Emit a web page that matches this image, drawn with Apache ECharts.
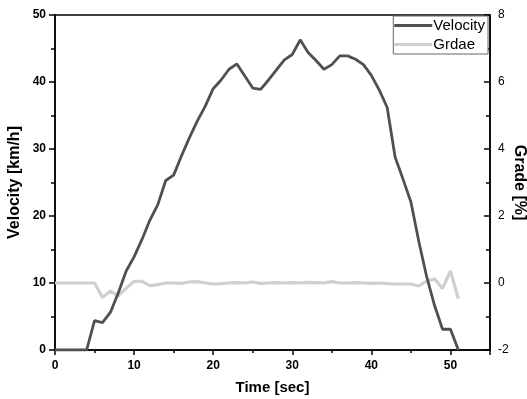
<!DOCTYPE html>
<html>
<head>
<meta charset="utf-8">
<script src="https://cdn.jsdelivr.net/npm/echarts@6/dist/echarts.min.js"></script>
<style>
html,body{margin:0;padding:0;background:#fff;}
#c{width:527px;height:399px;}
</style>
</head>
<body>
<div id="c"></div>
<script>
var timeSec = [0,1,2,3,4,5,6,7,8,9,10,11,12,13,14,15,16,17,18,19,20,21,22,23,24,25,26,27,28,29,30,31,32,33,34,35,36,37,38,39,40,41,42,43,44,45,46,47,48,49,50,51];
var velocity = [0,0,0,0,0,4.4,4.1,5.6,8.5,11.8,13.9,16.5,19.4,21.7,25.3,26.1,29.0,31.7,34.2,36.4,39.0,40.3,41.9,42.7,40.9,39.1,38.9,40.3,41.8,43.3,44.1,46.3,44.4,43.2,41.9,42.6,43.9,43.9,43.4,42.6,41.0,38.8,36.2,28.8,25.5,22.1,16.2,10.9,6.6,3.1,3.1,0];
var grade = [0,0,0,0,0,0,-0.43,-0.24,-0.38,-0.16,0.05,0.05,-0.08,-0.05,0,0,-0.01,0.03,0.04,0,-0.03,-0.02,0,0.01,0,0.03,-0.01,0,0.01,0,0.01,0,0.02,0.01,0,0.04,0,0,0.01,0,-0.01,0,-0.02,-0.03,-0.03,-0.03,-0.09,0.06,0.12,-0.16,0.36,-0.47];
var velTicks = [0,10,20,30,40,50];
var gradeTicks = [-2,0,2,4,6,8];

function pairs(xs, ys){ return xs.map(function(x,i){ return [x, ys[i]]; }); }

var chart = echarts.init(document.getElementById('c'), null, {renderer:'canvas'});
var font = 'Liberation Sans, Arial, sans-serif';
chart.setOption({
  animation:false,
  backgroundColor:'#fff',
  grid:{left:55, right:37, top:15, bottom:49, show:true, borderColor:'#000', borderWidth:1.5, backgroundColor:'transparent', containLabel:false, outerBoundsMode:'none'},
  legend:{
    right:39, top:16, orient:'vertical', itemGap:4, itemWidth:38, itemHeight:3, icon:'rect',
    borderColor:'#666', borderWidth:1, padding:[2,3,2,1], borderRadius:0,
    backgroundColor:'#fff',
    textStyle:{fontFamily:font, fontSize:15, color:'#000', padding:[0,0,0,-4]},
    data:['Velocity','Grdae']
  },
  xAxis:{
    type:'value', min:0, max:55, interval:10,
    name:'Time [sec]', nameLocation:'middle', nameGap:30,
    nameTextStyle:{fontFamily:font, fontSize:15, fontWeight:'bold', color:'#000'},
    axisLine:{show:true, lineStyle:{color:'#000', width:1.5}},
    axisTick:{show:true, inside:false, length:5, lineStyle:{color:'#000', width:1.5}},
    minorTick:{show:true, splitNumber:2, length:3, lineStyle:{color:'#000', width:1.5}},
    axisLabel:{fontFamily:font, fontSize:12, fontWeight:'bold', color:'#000', margin:10, showMaxLabel:false,
      formatter:function(v){ return v%10===0 ? String(v) : ''; }},
    splitLine:{show:false}
  },
  yAxis:[{
    type:'value', min:velTicks[0], max:velTicks[velTicks.length-1], interval:10, position:'left',
    name:'Velocity [km/h]', nameLocation:'middle', nameGap:32, nameRotate:90, nameMoveOverlap:false,
    nameTextStyle:{fontFamily:font, fontSize:16, fontWeight:'bold', color:'#000'},
    axisLine:{show:true, lineStyle:{color:'#000', width:1.5}},
    axisTick:{show:true, length:6, lineStyle:{color:'#000', width:1.5}},
    minorTick:{show:true, splitNumber:2, length:4, lineStyle:{color:'#000', width:1.5}},
    axisLabel:{fontFamily:font, fontSize:12, fontWeight:'bold', color:'#000', margin:9},
    splitLine:{show:false}
  },{
    type:'value', min:gradeTicks[0], max:gradeTicks[gradeTicks.length-1], interval:2, position:'right',
    name:'Grade [%]', nameLocation:'middle', nameGap:21, nameRotate:-90, nameMoveOverlap:false,
    nameTextStyle:{fontFamily:font, fontSize:16, fontWeight:'bold', color:'#000'},
    axisLine:{show:true, lineStyle:{color:'#000', width:1.5}},
    axisTick:{show:true, inside:true, length:6, lineStyle:{color:'#000', width:1.5}},
    minorTick:{show:true, splitNumber:2, length:4, lineStyle:{color:'#000', width:1.5}},
    axisLabel:{fontFamily:font, fontSize:12, color:'#000', margin:8},
    splitLine:{show:false}
  }],
  series:[{
    name:'Velocity', type:'line', yAxisIndex:0, symbol:'none',
    lineStyle:{color:'#505050', width:2.8}, itemStyle:{color:'#505050'},
    data:pairs(timeSec, velocity), z:3
  },{
    name:'Grdae', type:'line', yAxisIndex:1, symbol:'none',
    lineStyle:{color:'#cfcfcf', width:3.2}, itemStyle:{color:'#cfcfcf'},
    data:pairs(timeSec, grade), z:2
  }]
});
</script>
</body>
</html>
